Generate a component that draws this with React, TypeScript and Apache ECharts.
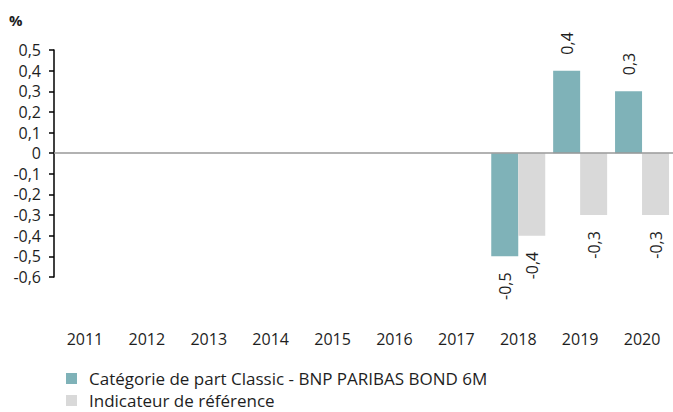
import React, { useEffect, useRef } from "react";
import * as echarts from "echarts";

const years = ["2011", "2012", "2013", "2014", "2015", "2016", "2017", "2018", "2019", "2020"];
const fundValues: (number | null)[] = [null, null, null, null, null, null, null, -0.5, 0.4, 0.3];
const benchValues: (number | null)[] = [null, null, null, null, null, null, null, -0.4, -0.3, -0.3];
const seriesNames = ["Catégorie de part Classic - BNP PARIBAS BOND 6M", "Indicateur de référence"];
const colors = ["#7fb2b8", "#d9d9d9"];

const FONT = "'Open Sans', 'Noto Sans', sans-serif";
const TXT = "#1e1e1e";
const fmt = (v: number) => String(v).replace(".", ",");

function toData(vals: (number | null)[]) {
  return vals.map((v) => {
    if (v === null) return null;
    const neg = v < 0;
    return {
      value: v,
      label: {
        show: true,
        rotate: 90,
        position: neg ? "bottom" : "top",
        align: neg ? "right" : "left",
        verticalAlign: "middle",
        distance: 16,
      },
    };
  });
}

export default function App() {
  const ref = useRef<HTMLDivElement>(null);
  useEffect(() => {
    if (!ref.current) return;
    const chart = echarts.init(ref.current, undefined, { renderer: "svg" });
    const labelStyle = {
      fontFamily: FONT,
      fontSize: 16,
      color: TXT,
      formatter: (p: any) => fmt(p.value),
    };
    const legendBase = {
      orient: "vertical",
      left: 66,
      padding: 0,
      itemWidth: 11,
      itemHeight: 11,
      icon: "rect",
      textStyle: { fontFamily: FONT, fontSize: 17, color: TXT, padding: [0, 0, 0, 7] },
    };
    chart.setOption({
      animation: false,
      textStyle: { fontFamily: FONT },
      graphic: [
        {
          type: "text",
          left: 9,
          top: 12,
          style: { text: "%", font: `bold 15px ${FONT}`, fill: TXT },
        },
      ],
      legend: [
        { ...legendBase, top: 370, data: [seriesNames[0]] },
        { ...legendBase, top: 392, data: [seriesNames[1]] },
      ],
      grid: { left: 54, right: 0, top: 50, bottom: 135, containLabel: false },
      xAxis: {
        type: "category",
        data: years,
        position: "bottom",
        axisLine: { show: false, onZero: false },
        axisTick: { show: false },
        axisLabel: { margin: 54, fontFamily: FONT, fontSize: 16, color: TXT },
      },
      yAxis: {
        type: "value",
        min: -0.6,
        max: 0.5,
        interval: 0.1,
        axisLine: { show: true, lineStyle: { color: "#000", width: 1.5 } },
        axisTick: { show: true, length: 5, lineStyle: { color: "#000", width: 1.5 } },
        splitLine: { show: false },
        axisLabel: {
          fontFamily: FONT,
          fontSize: 16,
          color: TXT,
          margin: 13,
          formatter: (v: number) => fmt(Math.round(v * 10) / 10),
        },
      },
      series: [
        {
          name: seriesNames[0],
          type: "bar",
          data: toData(fundValues),
          itemStyle: { color: colors[0] },
          barWidth: 27,
          barGap: "0%",
          label: labelStyle,
          markLine: {
            silent: true,
            symbol: "none",
            label: { show: false },
            lineStyle: { color: "#999", width: 1.5, type: "solid" },
            data: [{ yAxis: 0 }],
          },
        },
        {
          name: seriesNames[1],
          type: "bar",
          data: toData(benchValues),
          itemStyle: { color: colors[1] },
          barWidth: 27,
          barGap: "0%",
          label: labelStyle,
        },
      ],
    });
    return () => chart.dispose();
  }, []);
  return <div ref={ref} style={{ width: 673, height: 412, position: "absolute", left: 0, top: 0 }} />;
}
